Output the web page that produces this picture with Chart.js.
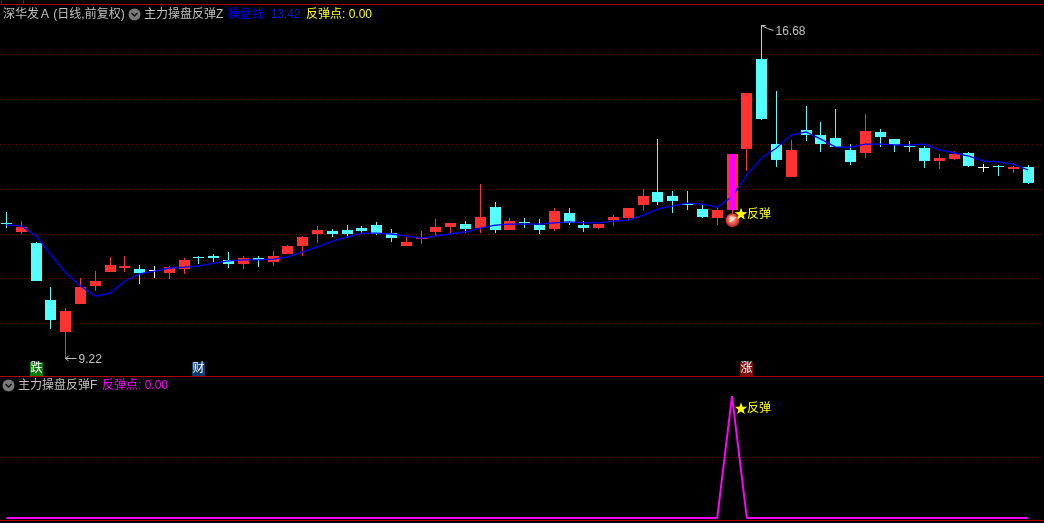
<!DOCTYPE html>
<html><head><meta charset="utf-8">
<style>
html,body{margin:0;padding:0;background:#000;overflow:hidden;width:1044px;height:523px}
canvas{position:absolute;left:0;display:block}
.t{position:absolute;white-space:pre;font:12px/14px "Liberation Sans","Noto Sans CJK SC",sans-serif;color:#c0c0c0}
.rule{position:absolute;background:#b00000}
svg{position:absolute}
</style></head><body>
<canvas id="top" width="1044" height="376" style="top:0"></canvas>
<canvas id="sub" width="1044" height="146" style="top:377px"></canvas>
<div class="rule" style="left:0;top:4px;width:1044px;height:1px"></div>
<div class="rule" style="left:1px;top:0;width:1px;height:4px"></div>
<div class="rule" style="left:23px;top:0;width:1px;height:4px"></div>
<div class="rule" style="left:0;top:376px;width:1044px;height:1px"></div>
<div class="rule" style="left:0;top:520px;width:1044px;height:1px"></div>
<div class="t" style="left:3px;top:7px;word-spacing:-1px">深华发Ａ (日线,前复权)</div>
<svg style="left:128px;top:8px" width="13" height="13"><circle cx="6.5" cy="6.5" r="6" fill="#7a7a7a"/><path d="M3.5 5l3 3 3-3" fill="none" stroke="#111" stroke-width="1.5"/></svg>
<div class="t" style="left:144px;top:7px">主力操盘反弹Z</div>
<div class="t" style="left:228px;top:7px;color:#0000ff">操盘线: <span style="color:#0a20d0">13.42</span></div>
<div class="t" style="left:306px;top:7px;color:#ffff00">反弹点: 0.00</div>
<svg style="left:2px;top:379px" width="13" height="13"><circle cx="6.5" cy="6.5" r="6" fill="#7a7a7a"/><path d="M3.5 5l3 3 3-3" fill="none" stroke="#111" stroke-width="1.5"/></svg>
<div class="t" style="left:18px;top:378px">主力操盘反弹F</div>
<div class="t" style="left:102px;top:378px;color:#ff00ff">反弹点: 0.00</div>
<script src="https://cdn.jsdelivr.net/npm/chart.js@4"></script>
<script>
const opens=[12.25,12.05,11.80,10.52,9.81,10.44,10.84,11.15,11.24,11.22,11.20,11.13,11.22,11.49,11.51,11.42,11.33,11.46,11.37,11.55,11.73,12.00,12.07,12.09,12.13,12.20,12.02,11.73,11.89,12.05,12.16,12.22,12.13,12.60,12.09,12.27,12.20,12.11,12.47,12.20,12.13,12.31,12.36,12.65,12.94,12.85,12.66,12.56,12.36,12.54,13.90,15.91,14.01,13.27,14.32,14.21,14.15,13.88,13.81,14.28,14.12,13.97,13.92,13.63,13.68,13.81,13.50,13.52,13.45,13.50];
const closes=[12.23,12.16,10.95,10.08,10.28,10.81,10.95,11.31,11.29,11.13,11.20,11.26,11.42,11.46,11.46,11.33,11.46,11.42,11.51,11.73,11.93,12.09,12.00,12.00,12.07,12.01,11.91,11.82,11.91,12.16,12.25,12.11,12.38,12.09,12.29,12.25,12.09,12.51,12.25,12.13,12.22,12.38,12.58,12.85,12.71,12.74,12.64,12.38,12.54,13.79,15.15,14.57,13.65,13.88,14.21,14.01,13.94,13.61,14.30,14.17,13.99,13.95,13.63,13.70,13.79,13.52,13.50,13.50,13.50,13.14];
const highs=[12.49,12.29,11.83,10.81,10.35,11.02,11.17,11.49,11.51,11.31,11.29,11.29,11.46,11.51,11.55,11.60,11.51,11.51,11.62,11.75,11.95,12.18,12.11,12.20,12.18,12.27,12.11,11.93,12.07,12.34,12.25,12.29,13.12,12.71,12.36,12.36,12.34,12.58,12.58,12.29,12.22,12.42,12.58,13.00,14.13,12.96,12.96,12.65,12.60,13.79,15.15,16.68,15.20,14.10,14.86,14.50,14.79,14.01,14.68,14.35,14.12,14.08,13.97,13.79,13.85,13.83,13.56,13.54,13.52,13.54];
const lows=[12.13,12.00,10.95,9.88,9.22,10.44,10.73,11.15,11.15,10.88,11.02,11.00,11.11,11.33,11.37,11.24,11.22,11.26,11.29,11.55,11.51,11.80,11.93,11.91,12.02,11.98,11.82,11.73,11.78,11.96,12.02,12.02,12.02,12.02,12.09,12.13,12.00,12.07,12.20,12.05,12.11,12.18,12.31,12.51,12.65,12.47,12.54,12.36,12.20,12.45,13.41,14.55,13.50,13.27,14.08,13.83,13.94,13.54,13.70,13.94,13.83,13.83,13.47,13.45,13.65,13.50,13.39,13.30,13.36,13.12];
const traderLine=[12.20,12.18,11.96,11.53,11.13,10.84,10.61,10.68,10.95,11.11,11.17,11.24,11.26,11.29,11.35,11.40,11.42,11.42,11.44,11.49,11.60,11.71,11.84,11.93,12.02,12.02,12.00,11.96,11.91,11.96,12.00,12.05,12.13,12.20,12.22,12.22,12.22,12.25,12.27,12.25,12.25,12.29,12.31,12.42,12.56,12.63,12.69,12.67,12.60,12.83,13.32,13.70,13.92,14.21,14.28,14.12,13.94,13.94,14.01,14.01,13.99,13.99,14.01,13.88,13.81,13.74,13.63,13.61,13.56,13.43];
const reboundSignal=[0,0,0,0,0,0,0,0,0,0,0,0,0,0,0,0,0,0,0,0,0,0,0,0,0,0,0,0,0,0,0,0,0,0,0,0,0,0,0,0,0,0,0,0,0,0,0,0,0,1,0,0,0,0,0,0,0,0,0,0,0,0,0,0,0,0,0,0,0,0];
const priceTicks=[10,11,12,13,14,15,16];
const signalTicks=[0.5];
const reboundIndex=49, reboundBarTop=13.79, reboundBarBottom=12.54;
const ballPrice=12.31, starPrice=12.44;
const badges=[{i:2,text:'跌',bg:'#0a7a0a'},{i:13,text:'财',bg:'#0f3c6e'},{i:50,text:'涨',bg:'#7a0f0f'}];
const badgePrice=8.98;
const lowNote={i:4,price:9.22,text:'9.22'}, highNote={i:51,price:16.68,text:'16.68'};

const RED='#ff3232',CYAN='#54ffff',WHITE='#ffffff';
const idx=opens.map((_,i)=>i);
const colors=idx.map(i=>closes[i]>opens[i]?RED:closes[i]<opens[i]?CYAN:WHITE);
const FONT='12px "Liberation Sans","Noto Sans CJK SC",sans-serif';
const xScale=()=>({type:'linear',display:false,offset:false,min:-0.439,max:70.07});
const yAxis=(min,max,ticks)=>({type:'linear',min,max,position:'left',
  ticks:{display:false},border:{display:false,dash:[1,3]},
  afterBuildTicks:s=>{s.ticks=ticks.map(v=>({value:v}));},
  grid:{color:'#661010',lineWidth:1,drawTicks:false,tickLength:0}});
const snap={id:'snap',afterDatasetsUpdate(chart){
  chart.getSortedVisibleDatasetMetas().forEach(m=>{
    if(m.type!=='bar')return;
    m.data.forEach(el=>{
      el.x=Math.floor(el.x)+0.5;
      el.y=Math.round(el.y);el.base=Math.round(el.base);
      if(el.y===el.base)el.base=el.y+1;
    });
  });
}};
function star(ctx,cx,cy,r){
  ctx.beginPath();
  for(let k=0;k<10;k++){
    const a=-Math.PI/2+k*Math.PI/5,R=k%2?r*0.42:r;
    ctx[k?'lineTo':'moveTo'](cx+R*Math.cos(a),cy+R*Math.sin(a));
  }
  ctx.closePath();ctx.fillStyle='#ffff00';ctx.fill();
}
function reboundMark(ctx,x,y){
  star(ctx,x+9,y,6.5);
  ctx.font=FONT;ctx.fillStyle='#ffff00';ctx.textAlign='left';ctx.textBaseline='middle';
  ctx.fillText('反弹',x+15,y);
}
const notes={id:'notes',afterDatasetsDraw(chart){
  const c=chart.ctx,X=chart.scales.x,Y=chart.scales.y;
  c.save();
  const bx=Math.floor(X.getPixelForValue(reboundIndex))+0.5,by=Y.getPixelForValue(ballPrice);
  const g=c.createRadialGradient(bx-1,by-2,1,bx,by,7);
  g.addColorStop(0,'#ffd8d0');g.addColorStop(0.45,'#f0705a');g.addColorStop(1,'#c02020');
  c.fillStyle=g;c.beginPath();c.arc(bx,by,7,0,Math.PI*2);c.fill();
  c.strokeStyle='rgba(255,255,255,.75)';c.lineWidth=1.2;c.beginPath();c.moveTo(bx-3,by+2);c.lineTo(bx+3,by-3);c.stroke();
  reboundMark(c,bx-0.5,Y.getPixelForValue(starPrice));
  c.font=FONT;c.textAlign='center';c.textBaseline='middle';
  badges.forEach(b=>{
    const x=Math.floor(X.getPixelForValue(b.i))+0.5,y=Y.getPixelForValue(badgePrice);
    c.fillStyle=b.bg;c.fillRect(x-6.5,y-7,13,14);
    c.fillStyle='#fff';c.fillText(b.text,x,y);
  });
  c.strokeStyle='#c0c0c0';c.fillStyle='#c0c0c0';c.lineWidth=1;c.textAlign='left';
  let x=Math.floor(X.getPixelForValue(lowNote.i))+0.5,y=Math.round(Y.getPixelForValue(lowNote.price))+0.5;
  c.beginPath();c.moveTo(x,y);c.lineTo(x+11,y);c.moveTo(x+3,y-2.5);c.lineTo(x,y);c.lineTo(x+3,y+2.5);c.stroke();
  c.fillText(lowNote.text,x+13,y+1);
  x=Math.floor(X.getPixelForValue(highNote.i))+0.5;y=Math.round(Y.getPixelForValue(highNote.price))+0.5;
  c.beginPath();c.moveTo(x,y+4);c.lineTo(x,y);c.lineTo(x+4,y);c.moveTo(x,y);c.lineTo(x+6,y+3);c.lineTo(x+12,y+5);c.stroke();
  c.fillText(highNote.text,x+14,y+6);
  c.restore();
}};
const subNotes={id:'subNotes',afterDatasetsDraw(chart){
  const X=chart.scales.x,Y=chart.scales.y;
  chart.ctx.save();
  reboundMark(chart.ctx,Math.floor(X.getPixelForValue(reboundIndex)),Y.getPixelForValue(0.895));
  chart.ctx.restore();
}};
const common={responsive:false,animation:false,devicePixelRatio:1,events:[],
  layout:{padding:0},plugins:{legend:{display:false},tooltip:{enabled:false}}};
const barDefaults={type:'bar',grouped:false,borderWidth:0,inflateAmount:0};
new Chart(document.getElementById('top'),{
  data:{datasets:[
    {...barDefaults,label:'反弹柱',order:0,barThickness:6,backgroundColor:'#ff00ff',
      data:[{x:reboundIndex,y:[reboundBarBottom,reboundBarTop]}]},
    {type:'line',label:'操盘线',order:1,borderColor:'#0000ff',borderWidth:1.3,pointRadius:0,tension:0,
      data:idx.map(i=>({x:i,y:traderLine[i]}))},
    {...barDefaults,label:'body',order:2,barThickness:11,backgroundColor:colors,
      data:idx.map(i=>({x:i,y:[opens[i],closes[i]]}))},
    {...barDefaults,label:'wick',order:3,barThickness:1,backgroundColor:colors,
      data:idx.map(i=>({x:i,y:[lows[i],highs[i]]}))}
  ]},
  options:{...common,scales:{x:xScale(),y:yAxis(8.827,17.229,priceTicks)}},
  plugins:[snap,notes]
});
new Chart(document.getElementById('sub'),{
  data:{datasets:[
    {type:'line',label:'反弹点',borderColor:'#ff00ff',borderWidth:2,borderJoinStyle:'bevel',pointRadius:0,tension:0,
      data:idx.map(i=>({x:i,y:reboundSignal[i]}))}
  ]},
  options:{...common,scales:{x:xScale(),y:yAxis(-0.041,1.156,signalTicks)}},
  plugins:[subNotes]
});
</script>
</body></html>
